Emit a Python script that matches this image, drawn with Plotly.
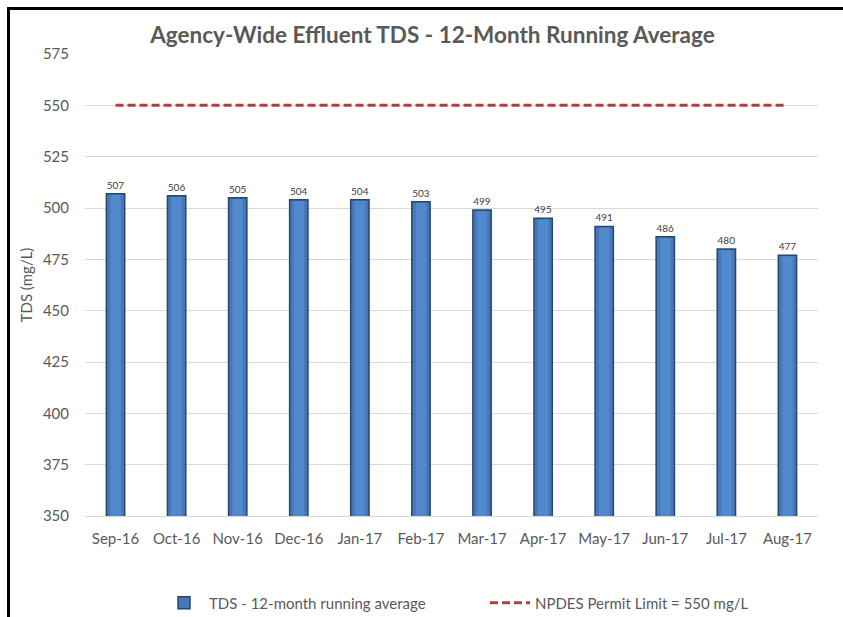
import plotly.graph_objects as go

# Monthly 12-month running average of effluent TDS (mg/L)
months = ["Sep-16", "Oct-16", "Nov-16", "Dec-16", "Jan-17", "Feb-17",
          "Mar-17", "Apr-17", "May-17", "Jun-17", "Jul-17", "Aug-17"]
tds_avg = [507, 506, 505, 504, 504, 503, 499, 495, 491, 486, 480, 477]
permit_limit = [550] * len(months)
y_ticks = [350, 375, 400, 425, 450, 475, 500, 525, 550, 575]

W, H = 843, 617
L, R, T, B = 85, 25, 54, 101
PW, PH = W - L - R, H - T - B


def px_x(px):
    return (px - L) / PW


def px_y(py):
    return 1 - (py - T) / PH


font_main = "Lato, Open Sans, sans-serif"
grey = "#595959"

fig = go.Figure()

fig.add_trace(go.Bar(
    x=months, y=tds_avg,
    name="TDS - 12-month running average",
    marker=dict(color="#4677B6", line=dict(color="#27466E", width=1.5)),
    width=0.3,
    text=[str(v) for v in tds_avg],
    textposition="outside",
    textfont=dict(size=10, color="#404040", family=font_main),
    cliponaxis=False,
    hoverinfo="x+y",
))

# lighter inner strip giving the bars a bevelled look
fig.add_trace(go.Bar(
    x=months, y=[v - 0.6 for v in tds_avg],
    marker=dict(color="#5289CD", line=dict(width=0)),
    width=0.17,
    showlegend=False,
    hoverinfo="skip",
))

fig.add_trace(go.Scatter(
    x=months, y=permit_limit,
    mode="lines",
    name="NPDES Permit Limit = 550 mg/L",
    line=dict(color="#AE4242", width=3, dash="8px,4px"),
))

fig.update_layout(
    width=W, height=H,
    margin=dict(l=L, r=R, t=T, b=B, autoexpand=False),
    paper_bgcolor="white",
    plot_bgcolor="white",
    barmode="overlay",
    font=dict(family=font_main, color=grey, size=15),
    title=dict(
        text="<b>Agency-Wide Effluent TDS - 12-Month Running Average</b>",
        x=0.474, xref="paper", xanchor="center",
        y=1 - 35 / H, yanchor="middle",
        font=dict(size=22.5, color=grey, family=font_main),
    ),
    showlegend=True,
    legend=dict(
        orientation="h",
        x=px_x(159), xanchor="left",
        y=px_y(603), yanchor="middle",
        font=dict(size=15, color=grey),
        traceorder="normal",
        itemwidth=40,
        entrywidth=271,
    ),
    xaxis=dict(
        type="category",
        showgrid=False,
        showline=True, linecolor="#D9D9D9", linewidth=1,
        ticks="", tickfont=dict(size=15, color=grey),
        ticklabelstandoff=9,
    ),
    yaxis=dict(
        range=[350, 575],
        tickvals=y_ticks,
        showgrid=True, gridcolor="#D9D9D9", gridwidth=1,
        zeroline=False, showline=False,
        ticks="", ticklen=0,
        ticklabelstandoff=15,
        tickfont=dict(size=15, color=grey),
        title=dict(text="TDS (mg/L)", font=dict(size=15, color=grey), standoff=6),
    ),
)

# dark frame along the left and top edges
fig.add_shape(type="line", xref="paper", yref="paper",
              x0=px_x(8.5), x1=px_x(8.5), y0=px_y(7), y1=px_y(H + 5),
              line=dict(color="black", width=3))
fig.add_shape(type="line", xref="paper", yref="paper",
              x0=px_x(7), x1=px_x(W + 5), y0=px_y(8.5), y1=px_y(8.5),
              line=dict(color="black", width=3))

fig.write_html("out.html")
